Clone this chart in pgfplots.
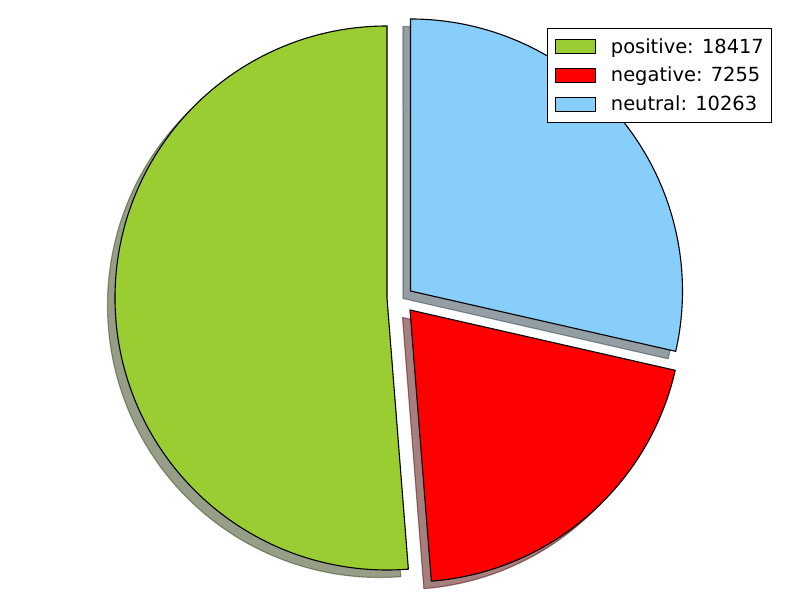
\documentclass[border=0pt]{standalone}
\usepackage{fontspec}
\setmainfont{DejaVu Sans}
\usepackage{pgfplots}
\pgfplotsset{compat=1.18}
\definecolor{pgreen}{RGB}{154,205,50}
\definecolor{pred}{RGB}{255,0,0}
\definecolor{pblue}{RGB}{135,206,250}
\definecolor{sgreen}{RGB}{46,62,15}
\definecolor{sred}{RGB}{77,0,0}
\definecolor{sblue}{RGB}{40,62,75}

% one slice: centre x, centre y, start angle, end angle, style
\newcommand{\pieslice}[5]{%
  \path[#5] (axis cs:#1,#2) -- (axis cs:{#1+272*cos(#3)},{#2+272*sin(#3)})
    arc[start angle=#3, end angle=#4, radius=195.84pt] -- cycle;}

\tikzset{
  shadowstyle/.style={fill=#1, draw=#1, opacity=0.5, line width=0.8pt},
  slicestyle/.style={fill=#1, draw=black, line width=0.8pt, line join=miter},
}
\pgfplotsset{
  boxlegend/.style={legend image code/.code={%
    \draw[##1, line width=0.7pt] (0pt,-5pt) rectangle (28.8pt,5pt);}},
}

\begin{document}
\begin{tikzpicture}
% counts (in thousands for pgfmath)
\def\npos{18.417}
\def\nneg{7.255}
\def\nneu{10.263}
\pgfmathsetmacro{\tot}{\npos+\nneg+\nneu}
\pgfmathsetmacro{\aA}{90}
\pgfmathsetmacro{\aB}{\aA+\npos/\tot*360}
\pgfmathsetmacro{\aC}{\aB+\nneg/\tot*360}
\pgfmathsetmacro{\aD}{\aC+\nneu/\tot*360}
\begin{axis}[
  scale only axis,
  width=576pt, height=432pt,
  xmin=0, xmax=800, ymin=0, ymax=600,
  hide axis, clip=false,
  legend style={
    at={(0.965,0.953)}, anchor=north east,
    draw=black, line width=0.7pt,
    font=\fontsize{14pt}{17pt}\selectfont,
    inner xsep=5.5pt, inner ysep=7pt,
    row sep=8.5pt, column sep=11pt,
    nodes={inner sep=0pt},
  },
  legend cell align=left,
]
% keep the whole figure area as the picture
\path (rel axis cs:0,0) rectangle (rel axis cs:1,1);
% shadows
\pieslice{379.5}{294.5}{\aA}{\aB}{shadowstyle=sgreen}
\pieslice{402.5}{282.5}{\aB}{\aC}{shadowstyle=sred}
\pieslice{403}{301.5}{\aC}{\aD}{shadowstyle=sblue}
% slices
\pieslice{387}{302}{\aA}{\aB}{slicestyle=pgreen}
\pieslice{410}{290}{\aB}{\aC}{slicestyle=pred}
\pieslice{410.5}{309}{\aC}{\aD}{slicestyle=pblue}

\addlegendimage{boxlegend, fill=pgreen, draw=black}
\addlegendentry{positive: 18417}
\addlegendimage{boxlegend, fill=pred, draw=black}
\addlegendentry{negative: 7255}
\addlegendimage{boxlegend, fill=pblue, draw=black}
\addlegendentry{neutral: 10263}
\end{axis}
\end{tikzpicture}
\end{document}
